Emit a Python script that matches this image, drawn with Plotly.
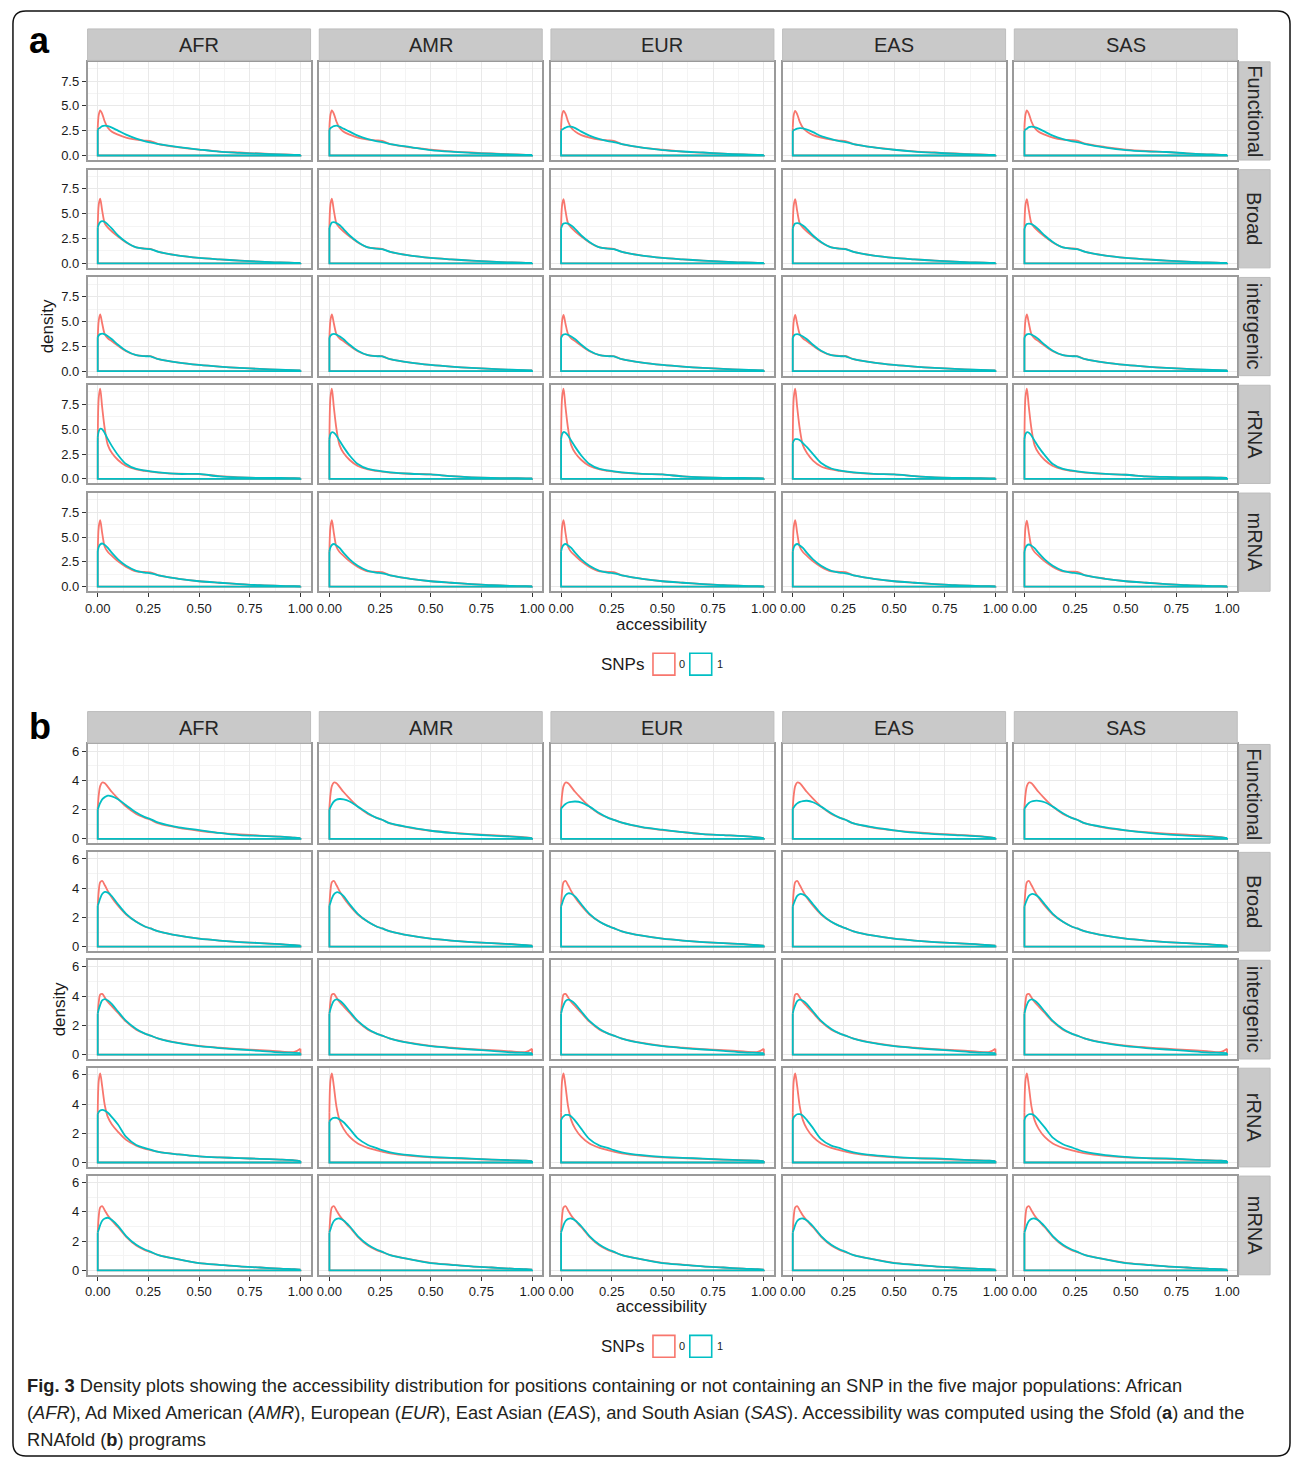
import plotly.graph_objects as go

W, H = 1295, 1462

POPS = ["AFR", "AMR", "EUR", "EAS", "SAS"]
REGIONS = ["Functional", "Broad", "intergenic", "rRNA", "mRNA"]
SNP_LEVELS = ["0", "1"]
X_TICKS = [0, 0.25, 0.5, 0.75, 1.0]
X_TICK_LABELS = ["0.00", "0.25", "0.50", "0.75", "1.00"]
A_Y_TICKS = [0, 2.5, 5, 7.5]
A_Y_TICK_LABELS = ["0.0", "2.5", "5.0", "7.5"]
B_Y_TICKS = [0, 2, 4, 6]
B_Y_TICK_LABELS = ["0", "2", "4", "6"]

# accessibility values at which densities are read
ACCESS = [0, 0.005, 0.012, 0.022, 0.035, 0.05, 0.07, 0.1, 0.14, 0.19, 0.23, 0.26, 0.3, 0.4, 0.5, 0.6, 0.7, 0.8, 0.9, 0.97, 1.0]

# ---------------- (a) Sfold ----------------  (rows: AFR, AMR, EUR, EAS, SAS)
SF_FUNCTIONAL_0 = [
    [2.8, 4.1, 4.55, 4.2, 3.4, 2.8, 2.4, 2.1, 1.8, 1.6, 1.5, 1.45, 1.15, 0.82, 0.6, 0.4, 0.3, 0.2, 0.12, 0.07, 0.05],
    [2.8, 4.1, 4.55, 4.2, 3.4, 2.8, 2.4, 2.1, 1.8, 1.6, 1.52, 1.48, 1.15, 0.82, 0.6, 0.42, 0.3, 0.2, 0.12, 0.07, 0.05],
    [2.8, 4.1, 4.5, 4.2, 3.4, 2.8, 2.4, 2.05, 1.8, 1.6, 1.52, 1.47, 1.15, 0.8, 0.58, 0.4, 0.28, 0.18, 0.1, 0.06, 0.04],
    [2.8, 4.1, 4.5, 4.15, 3.35, 2.8, 2.4, 2.05, 1.8, 1.6, 1.5, 1.45, 1.15, 0.82, 0.6, 0.42, 0.3, 0.2, 0.12, 0.07, 0.05],
    [2.8, 4.1, 4.55, 4.2, 3.4, 2.8, 2.4, 2.1, 1.8, 1.6, 1.55, 1.5, 1.2, 0.85, 0.6, 0.45, 0.35, 0.22, 0.12, 0.07, 0.05],
]
SF_FUNCTIONAL_1 = [
    [2.6, 2.7, 2.8, 2.95, 3.0, 2.95, 2.8, 2.5, 2.1, 1.7, 1.45, 1.32, 1.15, 0.85, 0.6, 0.38, 0.27, 0.18, 0.1, 0.06, 0.05],
    [2.6, 2.75, 2.85, 2.95, 3.0, 2.9, 2.7, 2.4, 2.0, 1.65, 1.45, 1.35, 1.15, 0.85, 0.55, 0.38, 0.27, 0.18, 0.1, 0.06, 0.05],
    [2.5, 2.6, 2.7, 2.8, 2.9, 2.9, 2.75, 2.4, 2.0, 1.65, 1.45, 1.35, 1.15, 0.8, 0.55, 0.4, 0.3, 0.18, 0.1, 0.06, 0.04],
    [2.5, 2.55, 2.62, 2.7, 2.75, 2.72, 2.6, 2.35, 1.95, 1.65, 1.45, 1.35, 1.15, 0.82, 0.58, 0.4, 0.28, 0.18, 0.1, 0.06, 0.05],
    [2.5, 2.6, 2.7, 2.85, 2.9, 2.85, 2.7, 2.4, 2.0, 1.65, 1.45, 1.35, 1.15, 0.8, 0.55, 0.42, 0.35, 0.22, 0.12, 0.07, 0.05],
]
SF_BROAD_0 = [
    [3.6, 5.9, 6.5, 5.3, 4.0, 3.6, 3.2, 2.7, 2.1, 1.6, 1.48, 1.45, 1.15, 0.78, 0.55, 0.4, 0.27, 0.17, 0.08, 0.05, 0.03],
    [3.6, 5.9, 6.5, 5.3, 4.0, 3.6, 3.2, 2.7, 2.1, 1.6, 1.5, 1.46, 1.15, 0.78, 0.55, 0.4, 0.27, 0.17, 0.08, 0.05, 0.03],
    [3.6, 5.85, 6.45, 5.25, 4.0, 3.6, 3.2, 2.7, 2.1, 1.6, 1.5, 1.46, 1.15, 0.78, 0.55, 0.4, 0.27, 0.17, 0.08, 0.05, 0.03],
    [3.6, 5.85, 6.45, 5.25, 4.0, 3.6, 3.2, 2.7, 2.1, 1.6, 1.48, 1.45, 1.15, 0.78, 0.55, 0.4, 0.27, 0.17, 0.08, 0.05, 0.03],
    [3.6, 5.85, 6.45, 5.3, 4.0, 3.6, 3.2, 2.7, 2.1, 1.6, 1.5, 1.46, 1.15, 0.78, 0.55, 0.4, 0.27, 0.17, 0.08, 0.05, 0.03],
]
SF_BROAD_1 = [
    [3.6, 3.9, 4.15, 4.25, 4.15, 3.9, 3.5, 2.8, 2.15, 1.6, 1.48, 1.42, 1.15, 0.78, 0.55, 0.4, 0.27, 0.17, 0.08, 0.05, 0.03],
    [3.55, 3.85, 4.1, 4.15, 4.05, 3.85, 3.45, 2.8, 2.15, 1.6, 1.48, 1.42, 1.15, 0.78, 0.55, 0.4, 0.27, 0.17, 0.08, 0.05, 0.03],
    [3.5, 3.8, 4.0, 4.05, 4.0, 3.8, 3.45, 2.8, 2.15, 1.6, 1.48, 1.42, 1.15, 0.78, 0.55, 0.4, 0.27, 0.17, 0.08, 0.05, 0.03],
    [3.5, 3.8, 4.0, 4.05, 4.0, 3.8, 3.45, 2.8, 2.15, 1.6, 1.48, 1.42, 1.15, 0.78, 0.55, 0.4, 0.27, 0.17, 0.08, 0.05, 0.03],
    [3.45, 3.75, 3.95, 4.0, 3.95, 3.75, 3.4, 2.8, 2.15, 1.6, 1.48, 1.42, 1.15, 0.78, 0.55, 0.4, 0.27, 0.17, 0.08, 0.05, 0.03],
]
SF_INTERGENIC_0 = [
    [3.3, 5.1, 5.7, 4.8, 3.7, 3.3, 3.0, 2.55, 2.0, 1.6, 1.52, 1.5, 1.2, 0.85, 0.62, 0.45, 0.32, 0.22, 0.12, 0.08, 0.06],
    [3.3, 5.1, 5.7, 4.8, 3.7, 3.3, 3.0, 2.55, 2.0, 1.6, 1.52, 1.5, 1.2, 0.85, 0.62, 0.45, 0.32, 0.22, 0.12, 0.08, 0.06],
    [3.3, 5.05, 5.65, 4.75, 3.7, 3.3, 3.0, 2.55, 2.0, 1.6, 1.52, 1.5, 1.2, 0.85, 0.62, 0.45, 0.32, 0.22, 0.12, 0.08, 0.06],
    [3.3, 5.05, 5.65, 4.75, 3.7, 3.3, 3.0, 2.55, 2.0, 1.6, 1.54, 1.52, 1.2, 0.85, 0.62, 0.45, 0.32, 0.22, 0.12, 0.08, 0.06],
    [3.3, 5.1, 5.7, 4.8, 3.7, 3.3, 3.0, 2.55, 2.0, 1.6, 1.52, 1.5, 1.2, 0.85, 0.62, 0.45, 0.32, 0.22, 0.12, 0.08, 0.06],
]
SF_INTERGENIC_1 = [
    [3.4, 3.6, 3.72, 3.78, 3.7, 3.5, 3.2, 2.65, 2.05, 1.6, 1.5, 1.48, 1.2, 0.85, 0.62, 0.45, 0.32, 0.22, 0.14, 0.1, 0.08],
    [3.35, 3.55, 3.7, 3.75, 3.68, 3.5, 3.2, 2.65, 2.05, 1.6, 1.5, 1.48, 1.2, 0.85, 0.62, 0.45, 0.32, 0.22, 0.14, 0.1, 0.08],
    [3.35, 3.55, 3.68, 3.72, 3.65, 3.48, 3.2, 2.65, 2.05, 1.6, 1.5, 1.48, 1.2, 0.85, 0.62, 0.45, 0.32, 0.22, 0.14, 0.1, 0.08],
    [3.35, 3.55, 3.68, 3.72, 3.65, 3.48, 3.2, 2.65, 2.05, 1.6, 1.5, 1.48, 1.2, 0.85, 0.62, 0.45, 0.32, 0.22, 0.14, 0.1, 0.08],
    [3.35, 3.55, 3.7, 3.75, 3.68, 3.5, 3.2, 2.65, 2.05, 1.6, 1.5, 1.48, 1.2, 0.85, 0.62, 0.45, 0.32, 0.22, 0.14, 0.1, 0.08],
]
SF_RRNA_0 = [
    [3.5, 8.2, 9.1, 7.2, 5.0, 3.4, 2.6, 1.9, 1.3, 0.95, 0.82, 0.74, 0.64, 0.52, 0.48, 0.27, 0.16, 0.1, 0.1, 0.07, 0.05],
    [3.5, 8.2, 9.1, 7.2, 5.0, 3.4, 2.6, 1.9, 1.3, 0.95, 0.82, 0.74, 0.64, 0.52, 0.45, 0.27, 0.16, 0.1, 0.08, 0.06, 0.05],
    [3.5, 8.2, 9.1, 7.2, 5.0, 3.4, 2.6, 1.9, 1.3, 0.95, 0.82, 0.74, 0.64, 0.5, 0.45, 0.25, 0.15, 0.1, 0.1, 0.07, 0.05],
    [3.5, 8.2, 9.1, 7.2, 5.0, 3.4, 2.6, 1.85, 1.25, 0.95, 0.82, 0.74, 0.64, 0.5, 0.45, 0.28, 0.15, 0.1, 0.08, 0.06, 0.05],
    [3.5, 8.2, 9.1, 7.2, 5.0, 3.4, 2.6, 1.9, 1.3, 0.95, 0.82, 0.74, 0.64, 0.5, 0.42, 0.25, 0.2, 0.15, 0.15, 0.12, 0.1],
]
SF_RRNA_1 = [
    [4.2, 4.8, 5.05, 5.0, 4.6, 4.0, 3.3, 2.4, 1.5, 1.0, 0.85, 0.75, 0.65, 0.5, 0.5, 0.25, 0.15, 0.1, 0.1, 0.07, 0.05],
    [4.0, 4.5, 4.7, 4.65, 4.35, 3.85, 3.2, 2.35, 1.5, 1.0, 0.85, 0.75, 0.65, 0.52, 0.45, 0.27, 0.16, 0.1, 0.08, 0.06, 0.05],
    [4.0, 4.5, 4.72, 4.65, 4.35, 3.85, 3.2, 2.35, 1.5, 1.0, 0.85, 0.75, 0.65, 0.5, 0.45, 0.25, 0.15, 0.1, 0.1, 0.07, 0.05],
    [3.6, 3.85, 4.0, 4.0, 3.9, 3.6, 3.2, 2.5, 1.6, 1.05, 0.85, 0.75, 0.65, 0.5, 0.45, 0.28, 0.15, 0.1, 0.08, 0.06, 0.05],
    [4.0, 4.5, 4.7, 4.65, 4.35, 3.85, 3.2, 2.4, 1.5, 1.0, 0.85, 0.75, 0.65, 0.5, 0.42, 0.25, 0.2, 0.15, 0.15, 0.12, 0.1],
]
SF_MRNA_0 = [
    [3.5, 6.0, 6.7, 5.4, 4.0, 3.5, 3.1, 2.55, 2.0, 1.55, 1.48, 1.45, 1.15, 0.8, 0.55, 0.4, 0.27, 0.15, 0.08, 0.05, 0.03],
    [3.5, 6.0, 6.7, 5.4, 4.0, 3.5, 3.1, 2.55, 2.0, 1.55, 1.5, 1.46, 1.15, 0.8, 0.55, 0.4, 0.27, 0.15, 0.08, 0.05, 0.03],
    [3.5, 6.0, 6.7, 5.4, 4.0, 3.5, 3.1, 2.55, 2.0, 1.55, 1.5, 1.46, 1.15, 0.8, 0.55, 0.4, 0.27, 0.15, 0.08, 0.05, 0.03],
    [3.5, 6.0, 6.7, 5.4, 4.0, 3.5, 3.1, 2.55, 2.0, 1.55, 1.5, 1.46, 1.15, 0.8, 0.55, 0.4, 0.27, 0.15, 0.08, 0.05, 0.03],
    [3.5, 5.95, 6.65, 5.4, 4.0, 3.5, 3.1, 2.55, 2.0, 1.55, 1.52, 1.5, 1.15, 0.8, 0.55, 0.4, 0.27, 0.15, 0.08, 0.05, 0.03],
]
SF_MRNA_1 = [
    [3.6, 4.0, 4.25, 4.35, 4.2, 3.9, 3.4, 2.75, 2.1, 1.6, 1.42, 1.35, 1.15, 0.8, 0.55, 0.4, 0.27, 0.15, 0.08, 0.05, 0.03],
    [3.55, 3.95, 4.2, 4.3, 4.15, 3.9, 3.4, 2.75, 2.1, 1.6, 1.42, 1.35, 1.15, 0.8, 0.55, 0.4, 0.27, 0.15, 0.08, 0.05, 0.03],
    [3.55, 3.95, 4.2, 4.3, 4.15, 3.9, 3.4, 2.75, 2.1, 1.6, 1.42, 1.35, 1.15, 0.8, 0.55, 0.4, 0.27, 0.15, 0.08, 0.05, 0.03],
    [3.55, 3.95, 4.2, 4.3, 4.15, 3.9, 3.4, 2.75, 2.1, 1.6, 1.42, 1.35, 1.15, 0.8, 0.55, 0.4, 0.27, 0.15, 0.08, 0.05, 0.03],
    [3.5, 3.9, 4.15, 4.25, 4.12, 3.88, 3.4, 2.75, 2.1, 1.6, 1.42, 1.35, 1.15, 0.8, 0.55, 0.4, 0.27, 0.15, 0.08, 0.05, 0.03],
]

# ---------------- (b) RNAfold ----------------
RF_FUNCTIONAL_0 = [
    [2.1, 3.0, 3.6, 3.85, 3.8, 3.55, 3.2, 2.75, 2.2, 1.7, 1.45, 1.3, 1.05, 0.75, 0.55, 0.4, 0.3, 0.22, 0.15, 0.08, 0.05],
    [2.1, 3.0, 3.6, 3.85, 3.8, 3.55, 3.2, 2.75, 2.2, 1.7, 1.45, 1.3, 1.05, 0.75, 0.55, 0.42, 0.32, 0.25, 0.17, 0.1, 0.05],
    [2.1, 3.0, 3.6, 3.85, 3.8, 3.55, 3.2, 2.75, 2.2, 1.7, 1.45, 1.3, 1.1, 0.78, 0.6, 0.45, 0.32, 0.25, 0.18, 0.1, 0.05],
    [2.1, 3.0, 3.6, 3.85, 3.8, 3.55, 3.2, 2.75, 2.2, 1.7, 1.45, 1.3, 1.05, 0.75, 0.58, 0.45, 0.35, 0.28, 0.2, 0.12, 0.05],
    [2.1, 3.0, 3.6, 3.85, 3.8, 3.55, 3.2, 2.75, 2.2, 1.7, 1.45, 1.3, 1.05, 0.75, 0.58, 0.45, 0.35, 0.28, 0.2, 0.12, 0.05],
]
RF_FUNCTIONAL_1 = [
    [2.0, 2.2, 2.45, 2.7, 2.85, 2.95, 2.9, 2.7, 2.3, 1.8, 1.5, 1.35, 1.1, 0.78, 0.6, 0.4, 0.25, 0.2, 0.15, 0.08, 0.05],
    [2.0, 2.15, 2.35, 2.55, 2.68, 2.72, 2.7, 2.55, 2.2, 1.75, 1.45, 1.3, 1.05, 0.78, 0.55, 0.4, 0.3, 0.22, 0.15, 0.08, 0.05],
    [2.05, 2.15, 2.25, 2.38, 2.48, 2.53, 2.55, 2.48, 2.2, 1.75, 1.45, 1.3, 1.1, 0.8, 0.62, 0.45, 0.32, 0.25, 0.18, 0.1, 0.05],
    [2.05, 2.15, 2.28, 2.42, 2.52, 2.58, 2.6, 2.5, 2.2, 1.75, 1.45, 1.3, 1.05, 0.78, 0.58, 0.42, 0.32, 0.25, 0.18, 0.1, 0.05],
    [2.05, 2.15, 2.3, 2.45, 2.55, 2.6, 2.6, 2.5, 2.2, 1.75, 1.45, 1.3, 1.05, 0.78, 0.58, 0.42, 0.3, 0.22, 0.15, 0.1, 0.05],
]
RF_BROAD_0 = [
    [2.8, 3.8, 4.4, 4.5, 4.2, 3.8, 3.35, 2.8, 2.2, 1.7, 1.4, 1.25, 1.05, 0.75, 0.55, 0.42, 0.32, 0.25, 0.17, 0.1, 0.08],
    [2.8, 3.8, 4.4, 4.5, 4.2, 3.8, 3.35, 2.8, 2.2, 1.7, 1.4, 1.25, 1.05, 0.75, 0.55, 0.42, 0.32, 0.25, 0.17, 0.1, 0.08],
    [2.8, 3.8, 4.4, 4.5, 4.2, 3.8, 3.35, 2.8, 2.2, 1.7, 1.42, 1.27, 1.05, 0.75, 0.55, 0.42, 0.32, 0.25, 0.17, 0.1, 0.08],
    [2.8, 3.8, 4.4, 4.5, 4.2, 3.8, 3.35, 2.8, 2.2, 1.7, 1.42, 1.27, 1.05, 0.75, 0.55, 0.42, 0.32, 0.25, 0.17, 0.1, 0.08],
    [2.8, 3.8, 4.4, 4.5, 4.2, 3.8, 3.35, 2.8, 2.2, 1.7, 1.4, 1.25, 1.05, 0.75, 0.55, 0.42, 0.32, 0.25, 0.17, 0.1, 0.08],
]
RF_BROAD_1 = [
    [2.8, 3.0, 3.3, 3.6, 3.75, 3.7, 3.45, 2.9, 2.25, 1.7, 1.4, 1.25, 1.05, 0.75, 0.55, 0.42, 0.32, 0.25, 0.17, 0.1, 0.08],
    [2.8, 3.0, 3.3, 3.58, 3.72, 3.68, 3.45, 2.9, 2.25, 1.7, 1.4, 1.25, 1.05, 0.75, 0.55, 0.42, 0.32, 0.25, 0.17, 0.1, 0.08],
    [2.75, 2.95, 3.25, 3.52, 3.65, 3.62, 3.42, 2.9, 2.25, 1.7, 1.42, 1.27, 1.05, 0.75, 0.55, 0.42, 0.32, 0.25, 0.17, 0.1, 0.08],
    [2.75, 2.95, 3.2, 3.48, 3.6, 3.58, 3.4, 2.9, 2.25, 1.7, 1.42, 1.27, 1.05, 0.75, 0.55, 0.42, 0.32, 0.25, 0.17, 0.1, 0.08],
    [2.75, 2.95, 3.2, 3.48, 3.6, 3.58, 3.4, 2.9, 2.25, 1.7, 1.4, 1.25, 1.05, 0.75, 0.55, 0.42, 0.32, 0.25, 0.17, 0.1, 0.08],
]
RF_INTERGENIC_0 = [
    [2.8, 3.6, 4.1, 4.15, 3.9, 3.6, 3.3, 2.85, 2.25, 1.7, 1.45, 1.3, 1.1, 0.8, 0.6, 0.48, 0.38, 0.3, 0.22, 0.18, 0.4],
    [2.8, 3.6, 4.1, 4.15, 3.9, 3.6, 3.3, 2.85, 2.25, 1.7, 1.45, 1.3, 1.1, 0.8, 0.6, 0.48, 0.38, 0.3, 0.22, 0.18, 0.4],
    [2.8, 3.6, 4.1, 4.15, 3.9, 3.6, 3.3, 2.85, 2.25, 1.7, 1.45, 1.3, 1.1, 0.8, 0.6, 0.48, 0.38, 0.3, 0.22, 0.18, 0.4],
    [2.8, 3.6, 4.1, 4.15, 3.9, 3.6, 3.3, 2.85, 2.25, 1.7, 1.45, 1.3, 1.1, 0.8, 0.6, 0.48, 0.38, 0.3, 0.22, 0.18, 0.4],
    [2.8, 3.6, 4.1, 4.15, 3.9, 3.6, 3.3, 2.85, 2.25, 1.7, 1.45, 1.3, 1.1, 0.8, 0.62, 0.5, 0.4, 0.32, 0.24, 0.18, 0.4],
]
RF_INTERGENIC_1 = [
    [2.8, 3.1, 3.4, 3.7, 3.8, 3.7, 3.45, 2.95, 2.3, 1.75, 1.45, 1.3, 1.1, 0.78, 0.58, 0.45, 0.35, 0.25, 0.15, 0.12, 0.1],
    [2.8, 3.1, 3.4, 3.68, 3.78, 3.7, 3.45, 2.95, 2.3, 1.75, 1.45, 1.3, 1.1, 0.78, 0.58, 0.45, 0.35, 0.25, 0.15, 0.12, 0.1],
    [2.8, 3.1, 3.38, 3.66, 3.76, 3.68, 3.45, 2.95, 2.3, 1.75, 1.45, 1.3, 1.1, 0.78, 0.58, 0.45, 0.35, 0.25, 0.15, 0.12, 0.1],
    [2.8, 3.1, 3.38, 3.66, 3.76, 3.68, 3.45, 2.95, 2.3, 1.75, 1.45, 1.3, 1.1, 0.78, 0.58, 0.45, 0.35, 0.25, 0.15, 0.12, 0.1],
    [2.8, 3.1, 3.4, 3.68, 3.78, 3.7, 3.45, 2.95, 2.3, 1.75, 1.45, 1.3, 1.1, 0.78, 0.58, 0.45, 0.35, 0.25, 0.15, 0.12, 0.1],
]
RF_RRNA_0 = [
    [3.4, 5.6, 6.1, 5.2, 3.9, 3.1, 2.6, 2.1, 1.55, 1.15, 0.95, 0.85, 0.72, 0.55, 0.42, 0.35, 0.3, 0.25, 0.2, 0.15, 0.1],
    [3.4, 5.6, 6.1, 5.2, 3.8, 2.9, 2.3, 1.75, 1.3, 1.0, 0.85, 0.75, 0.62, 0.45, 0.35, 0.3, 0.25, 0.2, 0.16, 0.13, 0.1],
    [3.4, 5.6, 6.1, 5.2, 3.8, 2.9, 2.3, 1.75, 1.3, 1.0, 0.85, 0.75, 0.62, 0.45, 0.35, 0.3, 0.25, 0.2, 0.16, 0.13, 0.1],
    [3.4, 5.6, 6.1, 5.2, 3.8, 2.9, 2.3, 1.75, 1.3, 1.0, 0.85, 0.75, 0.62, 0.45, 0.35, 0.3, 0.25, 0.2, 0.16, 0.13, 0.1],
    [3.4, 5.6, 6.1, 5.2, 3.8, 2.9, 2.3, 1.75, 1.3, 1.0, 0.85, 0.75, 0.62, 0.45, 0.35, 0.3, 0.25, 0.2, 0.16, 0.13, 0.1],
]
RF_RRNA_1 = [
    [3.3, 3.45, 3.55, 3.6, 3.55, 3.4, 3.1, 2.6, 1.75, 1.2, 1.0, 0.88, 0.72, 0.55, 0.42, 0.35, 0.3, 0.25, 0.2, 0.15, 0.1],
    [2.8, 2.9, 3.0, 3.05, 3.05, 2.95, 2.75, 2.3, 1.65, 1.2, 1.0, 0.85, 0.7, 0.5, 0.38, 0.32, 0.27, 0.2, 0.15, 0.12, 0.1],
    [2.9, 3.05, 3.15, 3.25, 3.25, 3.15, 2.85, 2.3, 1.6, 1.15, 1.0, 0.85, 0.7, 0.5, 0.38, 0.32, 0.27, 0.2, 0.15, 0.12, 0.1],
    [2.9, 3.1, 3.2, 3.3, 3.3, 3.2, 2.9, 2.35, 1.6, 1.15, 1.0, 0.85, 0.7, 0.5, 0.38, 0.3, 0.28, 0.22, 0.15, 0.12, 0.1],
    [2.9, 3.1, 3.2, 3.3, 3.3, 3.2, 2.9, 2.4, 1.7, 1.25, 1.05, 0.9, 0.72, 0.5, 0.38, 0.3, 0.28, 0.22, 0.15, 0.12, 0.1],
]
RF_MRNA_0 = [
    [2.6, 3.7, 4.3, 4.4, 4.1, 3.75, 3.4, 2.95, 2.3, 1.7, 1.4, 1.25, 1.05, 0.75, 0.5, 0.38, 0.27, 0.2, 0.12, 0.08, 0.05],
    [2.6, 3.7, 4.3, 4.4, 4.1, 3.75, 3.4, 2.95, 2.3, 1.7, 1.4, 1.25, 1.05, 0.75, 0.52, 0.4, 0.28, 0.2, 0.12, 0.08, 0.05],
    [2.6, 3.7, 4.3, 4.4, 4.1, 3.75, 3.4, 2.95, 2.3, 1.7, 1.4, 1.25, 1.05, 0.75, 0.52, 0.4, 0.28, 0.2, 0.12, 0.08, 0.05],
    [2.6, 3.7, 4.3, 4.4, 4.1, 3.75, 3.4, 2.95, 2.3, 1.7, 1.4, 1.25, 1.05, 0.75, 0.52, 0.4, 0.28, 0.2, 0.12, 0.08, 0.05],
    [2.6, 3.7, 4.3, 4.4, 4.1, 3.75, 3.4, 2.95, 2.3, 1.7, 1.4, 1.25, 1.05, 0.75, 0.52, 0.4, 0.28, 0.2, 0.12, 0.08, 0.05],
]
RF_MRNA_1 = [
    [2.6, 2.8, 3.1, 3.4, 3.55, 3.6, 3.45, 3.05, 2.35, 1.75, 1.45, 1.28, 1.05, 0.75, 0.5, 0.38, 0.27, 0.2, 0.12, 0.08, 0.05],
    [2.6, 2.8, 3.1, 3.38, 3.52, 3.55, 3.42, 3.02, 2.35, 1.75, 1.45, 1.28, 1.05, 0.75, 0.5, 0.38, 0.27, 0.2, 0.12, 0.08, 0.05],
    [2.6, 2.8, 3.1, 3.38, 3.52, 3.55, 3.42, 3.02, 2.35, 1.75, 1.45, 1.28, 1.05, 0.75, 0.5, 0.38, 0.27, 0.2, 0.12, 0.08, 0.05],
    [2.6, 2.8, 3.1, 3.38, 3.52, 3.55, 3.42, 3.02, 2.35, 1.75, 1.45, 1.28, 1.05, 0.75, 0.5, 0.38, 0.27, 0.2, 0.12, 0.08, 0.05],
    [2.6, 2.8, 3.1, 3.38, 3.52, 3.55, 3.42, 3.02, 2.35, 1.75, 1.45, 1.28, 1.05, 0.75, 0.5, 0.38, 0.27, 0.2, 0.12, 0.08, 0.05],
]

SFOLD_ROWS = [(SF_FUNCTIONAL_0, SF_FUNCTIONAL_1), (SF_BROAD_0, SF_BROAD_1),
              (SF_INTERGENIC_0, SF_INTERGENIC_1), (SF_RRNA_0, SF_RRNA_1), (SF_MRNA_0, SF_MRNA_1)]
RNAFOLD_ROWS = [(RF_FUNCTIONAL_0, RF_FUNCTIONAL_1), (RF_BROAD_0, RF_BROAD_1),
                (RF_INTERGENIC_0, RF_INTERGENIC_1), (RF_RRNA_0, RF_RRNA_1), (RF_MRNA_0, RF_MRNA_1)]

CAPTION = [
    "<b>Fig. 3</b> Density plots showing the accessibility distribution for positions containing or not containing an SNP in the five major populations: African",
    "(<i>AFR</i>), Ad Mixed American (<i>AMR</i>), European (<i>EUR</i>), East Asian (<i>EAS</i>), and South Asian (<i>SAS</i>). Accessibility was computed using the Sfold (<b>a</b>) and the",
    "RNAfold (<b>b</b>) programs",
]

# ---------------- styling / layout ----------------
COLORS = ["#F8766D", "#00BFC4"]
FONT = "Liberation Sans, Arial, Helvetica, sans-serif"
CAP_FONT = "Liberation Sans Narrow, Arial Narrow, Liberation Sans, sans-serif"
TEXT_C = "#1a1a1a"


def fx(p):
    return p / W


def fy(p):
    return 1 - p / H


COL_LEFT = [85 + 232.75 * c for c in range(5)]
PANEL_W = 224

BLOCKS = [
    dict(rows=SFOLD_ROWS, top=61.0, step=108.1, h=98.5, yrange=[-0.46, 9.43],
         yt=A_Y_TICKS, ytl=A_Y_TICK_LABELS, yminor=[1.25, 3.75, 6.25, 8.75],
         strip_top=28.0, letter="a", letter_y=40, xlab_y=625, dens_x=45, legend_y=665),
    dict(rows=RNAFOLD_ROWS, top=745.5, step=108.2, h=99.0, yrange=[-0.3, 6.45],
         yt=B_Y_TICKS, ytl=B_Y_TICK_LABELS, yminor=[1, 3, 5],
         strip_top=712.5, letter="b", letter_y=727, xlab_y=1309, dens_x=57, legend_y=1349),
]

fig = go.Figure()
layout = dict(width=W, height=H, margin=dict(l=0, r=0, t=0, b=0),
              paper_bgcolor="white", plot_bgcolor="white", showlegend=False)
shapes = []
annotations = []

k = 0
for b, blk in enumerate(BLOCKS):
    for r in range(5):
        top = blk["top"] + blk["step"] * r
        bot = top + blk["h"]
        red_list, blue_list = blk["rows"][r]
        for c in range(5):
            k += 1
            xs = "x" if k == 1 else f"x{k}"
            ys = "y" if k == 1 else f"y{k}"
            xa = "xaxis" if k == 1 else f"xaxis{k}"
            ya = "yaxis" if k == 1 else f"yaxis{k}"
            left = COL_LEFT[c]
            right = left + PANEL_W
            bottom_row = (r == 4)
            left_col = (c == 0)
            layout[xa] = dict(
                domain=[fx(left), fx(right)], anchor=ys, range=[-0.05, 1.05],
                tickvals=X_TICKS, ticktext=X_TICK_LABELS, showticklabels=bottom_row,
                ticks="outside" if bottom_row else "", ticklen=4, tickwidth=1.2, tickcolor="#333333",
                tickfont=dict(family=FONT, size=13, color=TEXT_C),
                showgrid=True, gridcolor="#e9e9e9", gridwidth=1, zeroline=False,
                minor=dict(tickvals=[0.125, 0.375, 0.625, 0.875], showgrid=True,
                           gridcolor="#f4f4f4", gridwidth=1, ticks=""),
                showline=True, mirror=True, linecolor="#9a9a9a", linewidth=1.6, fixedrange=True)
            layout[ya] = dict(
                domain=[fy(bot), fy(top)], anchor=xs, range=blk["yrange"],
                tickvals=blk["yt"], ticktext=blk["ytl"], showticklabels=left_col,
                ticks="outside" if left_col else "", ticklen=4, tickwidth=1.2, tickcolor="#333333",
                tickfont=dict(family=FONT, size=13, color=TEXT_C),
                showgrid=True, gridcolor="#e9e9e9", gridwidth=1, zeroline=False,
                minor=dict(tickvals=blk["yminor"], showgrid=True, gridcolor="#f4f4f4",
                           gridwidth=1, ticks=""),
                showline=True, mirror=True, linecolor="#9a9a9a", linewidth=1.6, fixedrange=True)
            for s, series in enumerate([red_list[c], blue_list[c]]):
                col = COLORS[s]
                # baseline + vertical edges of the density outline
                fig.add_trace(go.Scatter(
                    x=[ACCESS[0], ACCESS[0], ACCESS[-1], ACCESS[-1]],
                    y=[series[0], 0, 0, series[-1]],
                    mode="lines", line=dict(color=col, width=1.8),
                    xaxis=xs, yaxis=ys, hoverinfo="skip", name=SNP_LEVELS[s]))
                fig.add_trace(go.Scatter(
                    x=ACCESS, y=series, mode="lines",
                    line=dict(color=col, width=1.8, shape="spline", smoothing=0.9),
                    xaxis=xs, yaxis=ys, hoverinfo="skip", name=SNP_LEVELS[s]))

            # top strips
            if r == 0:
                st = blk["strip_top"]
                shapes.append(dict(type="rect", xref="paper", yref="paper",
                                   x0=fx(left), x1=fx(right), y0=fy(st + 31.5), y1=fy(st),
                                   fillcolor="#c9c9c9", line=dict(color="#bdbdbd", width=1)))
                annotations.append(dict(text=POPS[c], x=fx((left + right) / 2), y=fy(st + 16),
                                        xref="paper", yref="paper", showarrow=False,
                                        xanchor="center", yanchor="middle",
                                        font=dict(family=FONT, size=20, color="#262626")))
        # right strip
        rs_left = COL_LEFT[4] + PANEL_W + 2
        shapes.append(dict(type="rect", xref="paper", yref="paper",
                           x0=fx(rs_left), x1=fx(rs_left + 31), y0=fy(bot), y1=fy(top),
                           fillcolor="#c9c9c9", line=dict(color="#bdbdbd", width=1)))
        annotations.append(dict(text=REGIONS[r], x=fx(rs_left + 15.5), y=fy((top + bot) / 2),
                                xref="paper", yref="paper", showarrow=False, textangle=90,
                                xanchor="center", yanchor="middle",
                                font=dict(family=FONT, size=20, color="#262626")))

    # block letter
    annotations.append(dict(text=f"<b>{blk['letter']}</b>", x=fx(37), y=fy(blk["letter_y"]),
                            xref="paper", yref="paper", showarrow=False,
                            xanchor="center", yanchor="middle",
                            font=dict(family=FONT, size=36, color="#000000")))
    # axis titles
    annotations.append(dict(text="accessibility", x=fx(662), y=fy(blk["xlab_y"]),
                            xref="paper", yref="paper", showarrow=False,
                            xanchor="center", yanchor="middle",
                            font=dict(family=FONT, size=17, color=TEXT_C)))
    mid_y = (blk["top"] + blk["top"] + blk["step"] * 4 + blk["h"]) / 2
    annotations.append(dict(text="density", x=fx(blk["dens_x"]), y=fy(mid_y),
                            xref="paper", yref="paper", showarrow=False, textangle=-90,
                            xanchor="center", yanchor="middle",
                            font=dict(family=FONT, size=17, color=TEXT_C)))
    # legend
    ly = blk["legend_y"]
    annotations.append(dict(text="SNPs", x=fx(646), y=fy(ly), xref="paper", yref="paper",
                            showarrow=False, xanchor="right", yanchor="middle",
                            font=dict(family=FONT, size=17, color=TEXT_C)))
    for s, (bx, lbl_x) in enumerate([(652, 682), (689, 720)]):
        shapes.append(dict(type="rect", xref="paper", yref="paper",
                           x0=fx(bx + 1), x1=fx(bx + 23), y0=fy(ly + 11), y1=fy(ly - 11),
                           fillcolor="white", line=dict(color=COLORS[s], width=1.6)))
        annotations.append(dict(text=SNP_LEVELS[s], x=fx(lbl_x), y=fy(ly), xref="paper", yref="paper",
                                showarrow=False, xanchor="center", yanchor="middle",
                                font=dict(family=FONT, size=11, color=TEXT_C)))

# caption
for i, line in enumerate(CAPTION):
    annotations.append(dict(text=line, x=fx(22), y=fy(1388 + 27 * i), xref="paper", yref="paper",
                            showarrow=False, xanchor="left", yanchor="middle",
                            font=dict(family=CAP_FONT, size=18.3, color="#231f20")))

# rounded frame
x0, x1, y0, y1, rr = 10, 1293, 10, 1459, 13


def P(x, y):
    return f"{fx(x):.6f},{fy(y):.6f}"


frame = (f"M {P(x0 + rr, y0)} L {P(x1 - rr, y0)} Q {P(x1, y0)} {P(x1, y0 + rr)} "
         f"L {P(x1, y1 - rr)} Q {P(x1, y1)} {P(x1 - rr, y1)} L {P(x0 + rr, y1)} "
         f"Q {P(x0, y1)} {P(x0, y1 - rr)} L {P(x0, y0 + rr)} Q {P(x0, y0)} {P(x0 + rr, y0)} Z")
shapes.append(dict(type="path", xref="paper", yref="paper", path=frame,
                   line=dict(color="#111111", width=1.5)))

layout["shapes"] = shapes
layout["annotations"] = annotations
fig.update_layout(**layout)
fig.write_html("out.html")
